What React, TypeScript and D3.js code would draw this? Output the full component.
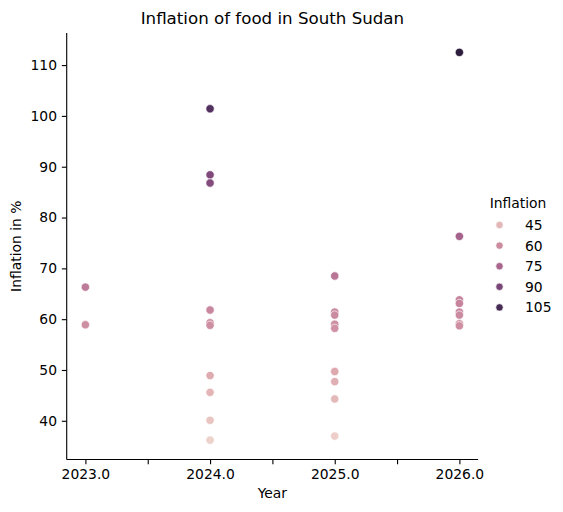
import { useEffect, useRef } from 'react';
import * as d3 from 'd3';

// values read per year
const years = [2023, 2024, 2025, 2026];
const values2023 = [66.3, 58.9];
const values2024 = [101.4, 88.4, 86.8, 61.8, 59.3, 58.8, 48.9, 45.6, 40.1, 36.2];
const values2025 = [68.5, 61.4, 60.8, 59.0, 58.2, 49.7, 47.7, 44.3, 37.0];
const values2026 = [112.5, 76.3, 63.8, 63.1, 61.4, 60.8, 59.1, 58.7];
const yTicks = [40, 50, 60, 70, 80, 90, 100, 110];
const xTicks = [2023, 2023.5, 2024, 2024.5, 2025, 2025.5, 2026];
const legendLevels = [45, 60, 75, 90, 105];

const FONT = '"DejaVu Sans", sans-serif';

// matplotlib cubehelix, as used by seaborn's "ch:" default (light .85 -> dark .15)
const cubehelix = (x: number) => {
  const start = 0, rot = 0.4, hue = 0.8, gamma = 1;
  const xg = Math.pow(x, gamma);
  const a = (hue * xg * (1 - xg)) / 2;
  const phi = 2 * Math.PI * (start / 3 + rot * x);
  const c = Math.cos(phi), s = Math.sin(phi);
  const clip = (v: number) => Math.round(255 * Math.max(0, Math.min(1, v)));
  const r = xg + a * (-0.14861 * c + 1.78277 * s);
  const g = xg + a * (-0.29227 * c - 0.90649 * s);
  const b = xg + a * (1.97294 * c);
  return `rgb(${clip(r)},${clip(g)},${clip(b)})`;
};

export default function App() {
  const svgRef = useRef<SVGSVGElement>(null);
  const width = 563;
  const height = 512;

  useEffect(() => {
    if (!svgRef.current) return;
    const svg = d3.select(svgRef.current);
    svg.selectAll('*').remove();

    const data = [values2023, values2024, values2025, values2026].flatMap((vals, i) =>
      vals.map(v => ({ year: years[i], value: v }))
    );

    const left = 66.7, right = 478.1, top = 33, bottom = 459.5;

    const [ymin, ymax] = d3.extent(data, d => d.value) as [number, number];
    const ypad = (ymax - ymin) * 0.05;
    const x = d3.scaleLinear().domain([2023 - 0.15, 2026 + 0.15]).range([left, right]);
    const y = d3.scaleLinear().domain([ymin - ypad, ymax + ypad]).range([bottom, top]);

    const norm = d3.scaleLinear().domain([ymin, ymax]).range([0, 1]).clamp(true);
    const color = (v: number) => cubehelix(0.85 - 0.7 * norm(v));

    // title
    svg.append('text')
      .attr('x', (left + right) / 2)
      .attr('y', 24)
      .attr('text-anchor', 'middle')
      .attr('font-family', FONT)
      .attr('font-size', '16.67px')
      .text('Inflation of food in South Sudan');

    // y axis
    const yAxis = svg.append('g')
      .attr('transform', `translate(${left},0)`)
      .call(d3.axisLeft(y).tickValues(yTicks).tickSize(4.86).tickPadding(4.86).tickFormat(d3.format('d')));
    yAxis.select('.domain').attr('stroke-width', 1.11).attr('d', `M0,${top}V${bottom}`);
    yAxis.selectAll('.tick line').attr('stroke-width', 1.11);
    yAxis.selectAll('.tick text')
      .attr('font-family', FONT)
      .attr('font-size', '13.89px')
      .attr('fill', '#000');

    // x axis
    const xAxis = svg.append('g')
      .attr('transform', `translate(0,${bottom})`)
      .call(d3.axisBottom(x).tickValues(xTicks).tickSize(4.86).tickPadding(4.86)
        .tickFormat(d => (Number(d) % 1 === 0 ? d3.format('.1f')(Number(d)) : '')));
    xAxis.select('.domain').attr('stroke-width', 1.11).attr('d', `M${left},0H${right}`);
    xAxis.selectAll('.tick line').attr('stroke-width', 1.11);
    xAxis.selectAll('.tick text')
      .attr('font-family', FONT)
      .attr('font-size', '13.89px')
      .attr('fill', '#000');

    // axis labels
    svg.append('text')
      .attr('x', (left + right) / 2)
      .attr('y', 498)
      .attr('text-anchor', 'middle')
      .attr('font-family', FONT)
      .attr('font-size', '13.89px')
      .text('Year');

    svg.append('text')
      .attr('transform', `translate(20.5,${(top + bottom) / 2}) rotate(-90)`)
      .attr('text-anchor', 'middle')
      .attr('font-family', FONT)
      .attr('font-size', '13.89px')
      .text('Inflation in %');

    // points
    svg.append('g')
      .selectAll('circle')
      .data(data)
      .join('circle')
      .attr('cx', d => x(d.year))
      .attr('cy', d => y(d.value))
      .attr('r', 4.17)
      .attr('fill', d => color(d.value))
      .attr('stroke', '#fff')
      .attr('stroke-width', 0.67);

    // legend
    const legend = svg.append('g');
    legend.append('text')
      .attr('x', 518)
      .attr('y', 207.5)
      .attr('text-anchor', 'middle')
      .attr('font-family', FONT)
      .attr('font-size', '13.89px')
      .text('Inflation');

    const items = legend.selectAll('g.item')
      .data(legendLevels)
      .join('g')
      .attr('class', 'item')
      .attr('transform', (_, i) => `translate(0,${225 + i * 20.6})`);

    items.append('circle')
      .attr('cx', 499.5)
      .attr('cy', 0)
      .attr('r', 3.7)
      .attr('fill', d => color(d))
      .attr('stroke', '#fff')
      .attr('stroke-width', 0.67);

    items.append('text')
      .attr('x', 525)
      .attr('y', 5)
      .attr('font-family', FONT)
      .attr('font-size', '13.89px')
      .text(d => String(d));
  }, []);

  return (
    <svg
      ref={svgRef}
      width={width}
      height={height}
      style={{ position: 'absolute', left: 0, top: 0, background: '#fff' }}
    />
  );
}
